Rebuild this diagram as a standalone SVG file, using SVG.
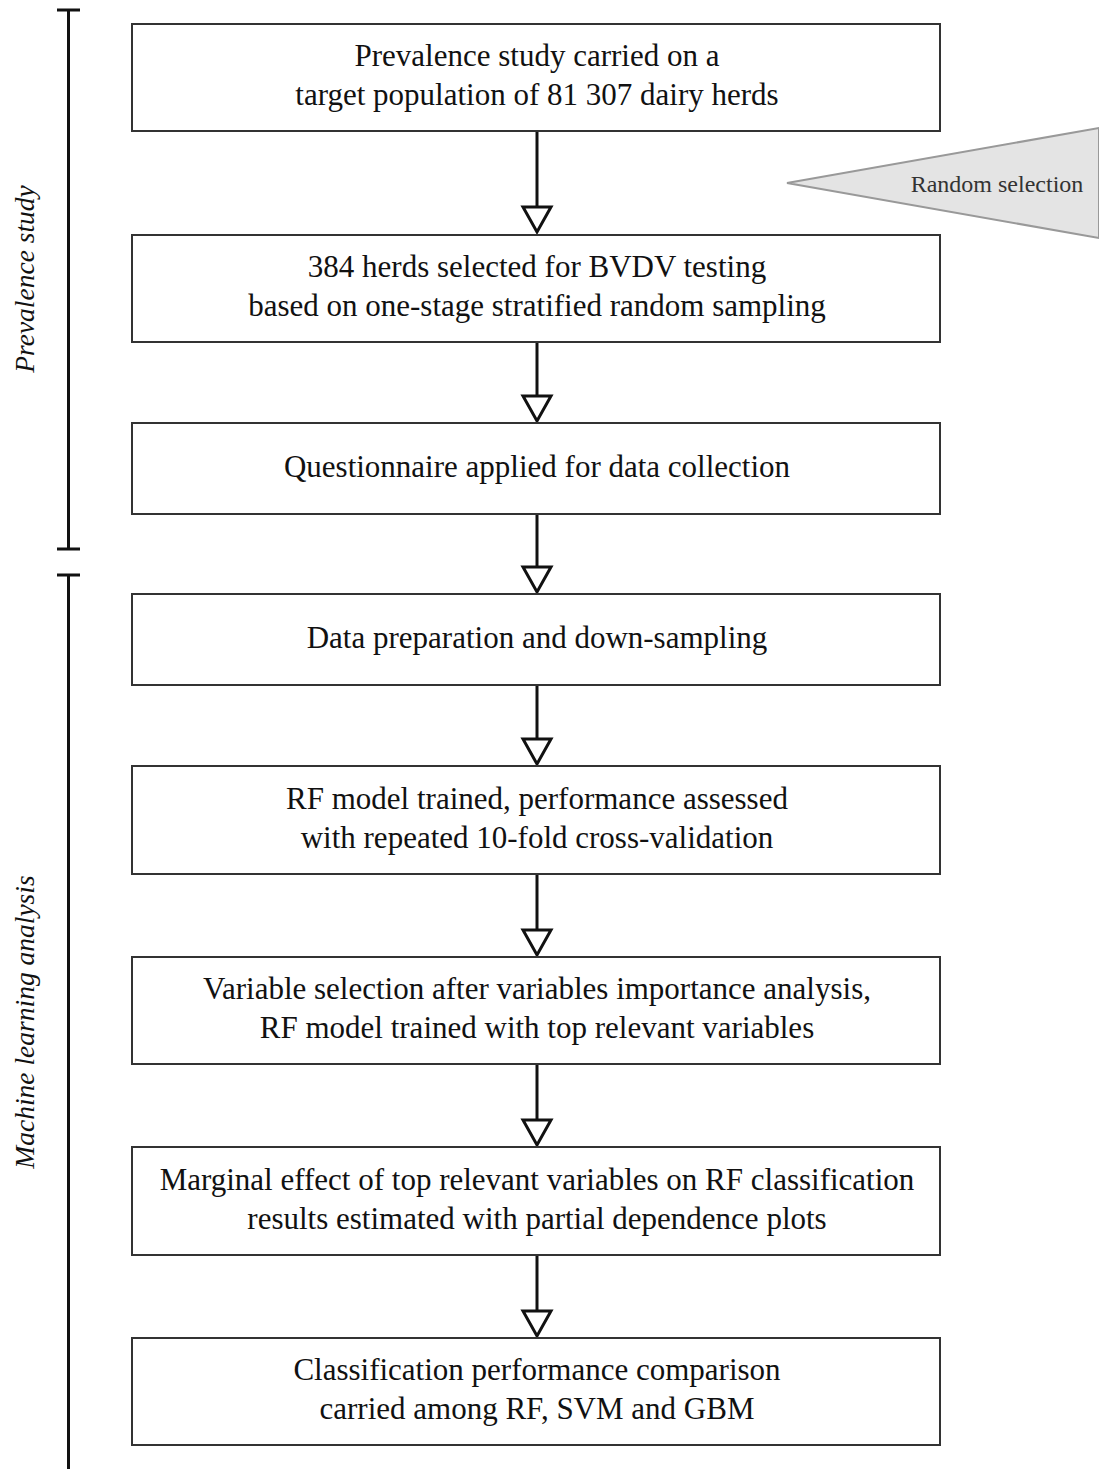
<svg xmlns="http://www.w3.org/2000/svg" width="1099" height="1469" viewBox="0 0 1099 1469">
<style>
.box{fill:#fff;stroke:#333;stroke-width:2}
.t{font-family:"Liberation Serif","Times New Roman",serif;font-size:31px;fill:#111;text-anchor:middle}
.side{font-family:"Liberation Serif","Times New Roman",serif;font-size:27.5px;font-style:italic;fill:#111;text-anchor:middle}
.ln{stroke:#111;stroke-width:3;fill:none}
.ah{fill:#fff;stroke:#111;stroke-width:3;stroke-linejoin:miter}
</style>
<rect width="1099" height="1469" fill="#fff"/>
<g id="brackets">
<path class="ln" d="M57 10H80M68.5 10V549M57 549H80"/>
<path class="ln" d="M57 575H80M68.5 575V1469"/>
<text class="side" transform="translate(34 279) rotate(-90)">Prevalence study</text>
<text class="side" transform="translate(34 1022) rotate(-90)">Machine learning analysis</text>
</g>
<g id="random">
<polygon points="787,183 1099,128 1099,238" fill="#e4e4e4" stroke="#999" stroke-width="2"/>
<text x="997" y="192" style="font-family:'Liberation Serif',serif;font-size:24px;fill:#333;text-anchor:middle">Random selection</text>
</g>
<g id="connectors">
<path class="ln" d="M537 131V207"/><polygon class="ah" points="523,207 551,207 537,232"/>
<path class="ln" d="M537 342V396"/><polygon class="ah" points="523,396 551,396 537,421"/>
<path class="ln" d="M537 514V567"/><polygon class="ah" points="523,567 551,567 537,592"/>
<path class="ln" d="M537 685V739"/><polygon class="ah" points="523,739 551,739 537,764"/>
<path class="ln" d="M537 874V930"/><polygon class="ah" points="523,930 551,930 537,955"/>
<path class="ln" d="M537 1064V1120"/><polygon class="ah" points="523,1120 551,1120 537,1145"/>
<path class="ln" d="M537 1255V1311"/><polygon class="ah" points="523,1311 551,1311 537,1336"/>
</g>
<g id="n1"><rect class="box" x="132" y="24" width="808" height="107"/>
<text class="t" x="537" y="66">Prevalence study carried on a</text>
<text class="t" x="537" y="105">target population of 81 307 dairy herds</text></g>
<g id="n2"><rect class="box" x="132" y="235" width="808" height="107"/>
<text class="t" x="537" y="277">384 herds selected for BVDV testing</text>
<text class="t" x="537" y="316">based on one-stage stratified random sampling</text></g>
<g id="n3"><rect class="box" x="132" y="423" width="808" height="91"/>
<text class="t" x="537" y="477">Questionnaire applied for data collection</text></g>
<g id="n4"><rect class="box" x="132" y="594" width="808" height="91"/>
<text class="t" x="537" y="648">Data preparation and down-sampling</text></g>
<g id="n5"><rect class="box" x="132" y="766" width="808" height="108"/>
<text class="t" x="537" y="809">RF model trained, performance assessed</text>
<text class="t" x="537" y="848">with repeated 10-fold cross-validation</text></g>
<g id="n6"><rect class="box" x="132" y="957" width="808" height="107"/>
<text class="t" x="537" y="999">Variable selection after variables importance analysis,</text>
<text class="t" x="537" y="1038">RF model trained with top relevant variables</text></g>
<g id="n7"><rect class="box" x="132" y="1147" width="808" height="108"/>
<text class="t" x="537" y="1190">Marginal effect of top relevant variables on RF classification</text>
<text class="t" x="537" y="1229">results estimated with partial dependence plots</text></g>
<g id="n8"><rect class="box" x="132" y="1338" width="808" height="107"/>
<text class="t" x="537" y="1380">Classification performance comparison</text>
<text class="t" x="537" y="1419">carried among RF, SVM and GBM</text></g>
</svg>
